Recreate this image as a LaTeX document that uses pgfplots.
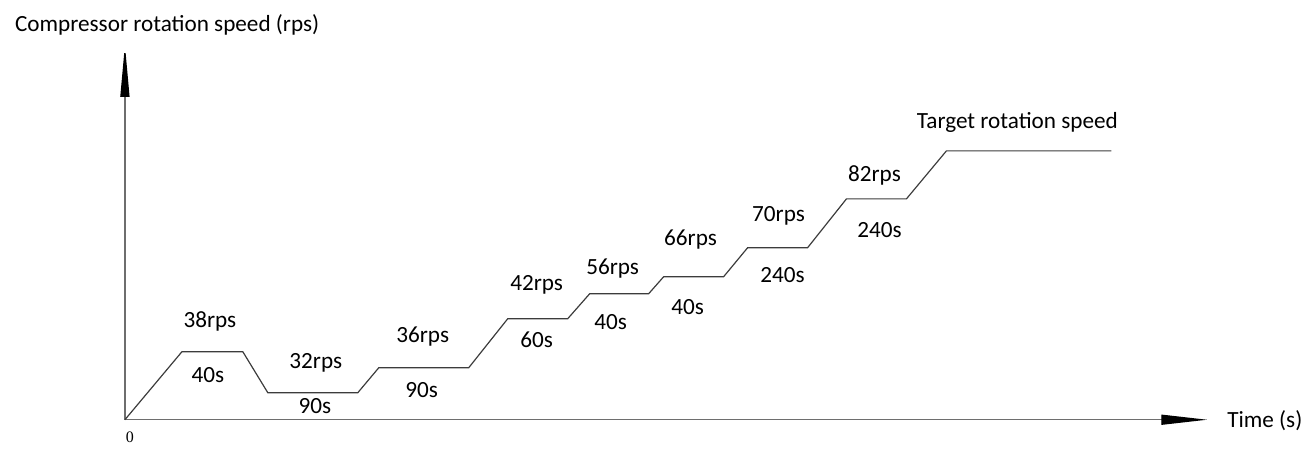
\documentclass[border=0pt]{standalone}
\usepackage{pgfplots}
\pgfplotsset{compat=1.18}
\usepackage{fontspec}
\setmainfont{Carlito}
\newfontfamily\zerofont{Liberation Serif}
\usetikzlibrary{arrows.meta}

\definecolor{lineclr}{HTML}{3C3C3C}
\definecolor{axisclr}{HTML}{6E6E6E}

% speed profile, in drawing units (1 unit = 1 px of the reference)
\pgfplotstableread{
x y
0 0
57 68
118 68
143 27
233 27
254 52
344 52
383 101
443 101
465 126
524 126
539 143
599 143
623 172
683 172
722 221
782 221
822 269
987 269
}\profile

\begin{document}
\begin{tikzpicture}
  \begin{axis}[
    x=0.5pt, y=0.5pt,
    xmin=-125, xmax=1184,
    ymin=-30, ymax=420,
    hide axis,
    clip=false,
    font=\fontsize{11.6}{14}\selectfont,
  ]
  \path (rel axis cs:0,0) rectangle (rel axis cs:1,1);

  % axes
  \draw[axisclr, line width=0.7pt, -{Triangle[length=26pt,width=4.5pt,black]}]
    (axis cs:0,0) -- (axis cs:0,375);
  \draw[axisclr, line width=0.7pt, -{Triangle[length=23pt,width=5pt,black]}]
    (axis cs:0,0) -- (axis cs:1083,0);

  \addplot[lineclr, line width=0.6pt, mark=none] table {\profile};

  \node[anchor=west] at (axis cs:-117,395) {Compressor rotation speed (rps)};
  \node[anchor=west] at (axis cs:1096,-1) {Time (s)};
  \node at (axis cs:5,-18) {\zerofont\fontsize{8}{9}\selectfont 0};

  \node at (axis cs:85,98) {38rps};
  \node at (axis cs:83,45) {40s};
  \node at (axis cs:191,57) {32rps};
  \node at (axis cs:190,14) {90s};
  \node at (axis cs:298,83) {36rps};
  \node at (axis cs:297,30) {90s};
  \node at (axis cs:412,135) {42rps};
  \node at (axis cs:412,80) {60s};
  \node at (axis cs:488,151) {56rps};
  \node at (axis cs:486,98) {40s};
  \node at (axis cs:566,180) {66rps};
  \node at (axis cs:563,113) {40s};
  \node at (axis cs:654,204) {70rps};
  \node at (axis cs:658,145) {240s};
  \node at (axis cs:750,244) {82rps};
  \node at (axis cs:755,190) {240s};
  \node at (axis cs:893,297) {Target rotation speed};
  \end{axis}
\end{tikzpicture}
\end{document}
